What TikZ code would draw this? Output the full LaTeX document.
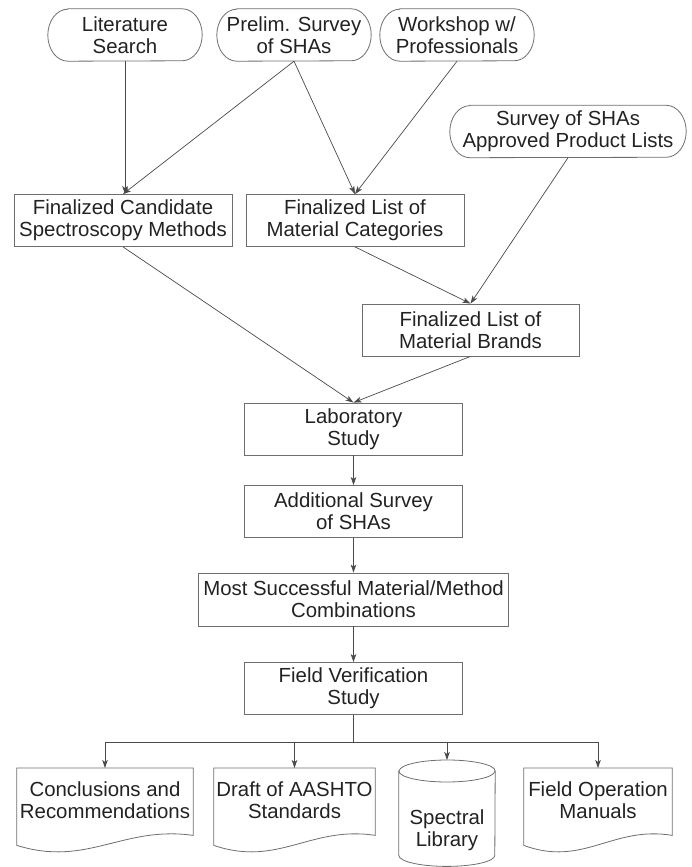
\documentclass[tikz,border=0pt]{standalone}
\usepackage{fontspec}
\setmainfont{Liberation Sans}
\usetikzlibrary{arrows.meta,calc}
\definecolor{edgec}{HTML}{6E6E6E}
\definecolor{linec}{HTML}{4A4A4A}
\definecolor{txtc}{HTML}{222222}
\tikzset{
  base/.style={inner sep=0pt, align=center, text=txtc, font=\fontsize{20.4pt}{22pt}\selectfont},
  boxn/.style={base, draw=edgec, line width=0.8pt, minimum width=218pt, minimum height=52pt},
  ovaln/.style={base, minimum height=52pt},
  docn/.style={base, minimum height=64pt, anchor=north},
  shp/.style={draw=edgec, line width=0.8pt},
  conn/.style={draw=linec, line width=0.7pt, -{Stealth[length=8pt,width=5.5pt,inset=2pt]}},
  plain/.style={draw=linec, line width=0.7pt},
}
\newcommand\ovalshape[1]{\draw[shp] ($(#1.north west)+(20,0)$) -- ($(#1.north east)+(-20,0)$) arc[start angle=90,end angle=-90,x radius=20pt,y radius=26pt] -- ($(#1.south west)+(20,0)$) arc[start angle=270,end angle=90,x radius=20pt,y radius=26pt] -- cycle;}
\newcommand\docshape[1]{\draw[shp] (#1.north west) -- ($(#1.south west)+(0,-13)$) .. controls ($(#1.south west)!0.4!(#1.south east)+(0,-35)$) and ($(#1.south west)!0.6!(#1.south east)+(0,7)$) .. ($(#1.south east)+(0,-3)$) -- (#1.north east) -- cycle;}
\begin{document}
\begin{tikzpicture}[x=1pt,y=1pt]
\useasboundingbox (0,0) rectangle (692,867);
% top ovals
\node[ovaln, minimum width=154pt] (lit) at (125,832) {Literature\\Search};
\node[ovaln, minimum width=154pt] (pre) at (294,832) {Prelim. Survey\\of SHAs};
\node[ovaln, minimum width=154pt] (work) at (457,832) {Workshop w/\\Professionals};
\node[ovaln, minimum width=236pt] (surv) at (568,735.5) {Survey of SHAs\\Approved Product Lists};
\ovalshape{lit}
\ovalshape{pre}
\ovalshape{work}
\ovalshape{surv}
% boxes
\node[boxn] (cand) at (123,646.5) {Finalized Candidate\\Spectroscopy Methods};
\node[boxn] (cat) at (355,646.5) {Finalized List of\\Material Categories};
\node[boxn, minimum width=217pt] (brand) at (470.5,537) {Finalized List of\\Material Brands};
\node[boxn] (lab) at (353.5,438) {Laboratory\\Study};
\node[boxn] (add) at (353.5,355.5) {Additional Survey\\of SHAs};
\node[boxn, minimum width=310pt, minimum height=53pt] (most) at (353.5,267.5) {Most Successful Material/Method\\Combinations};
\node[boxn] (fv) at (353.5,178.5) {Field Verification\\Study};
% outputs
\coordinate (br) at (353.5,125);
\node[docn, minimum width=176pt] (conc) at (105,99) {Conclusions and\\Recommendations};
\node[docn, minimum width=161pt] (draft) at (294.5,99) {Draft of AASHTO\\Standards};
\node[docn, minimum width=148pt] (fom) at (598,99) {Field Operation\\Manuals};
\docshape{conc}
\docshape{draft}
\docshape{fom}
\node[base, minimum width=96pt, minimum height=106pt, anchor=north] (lib) at (447,107) {};
\draw[shp] ($(lib.north west)+(0,-11)$) -- ($(lib.south west)+(0,11)$) arc[start angle=180,end angle=360,x radius=48pt,y radius=11pt] -- ($(lib.north east)+(0,-11)$) arc[start angle=0,end angle=180,x radius=48pt,y radius=11pt] -- cycle;
\draw[shp] ($(lib.north west)+(0,-11)$) arc[start angle=180,end angle=360,x radius=48pt,y radius=11pt];
\node[base] (libtxt) at (447,37) {Spectral\\Library};
% connectors
\draw[conn] (lit.south) -- (lit.south |- cand.north);
\draw[conn] (pre.south) -- (cand.north);
\draw[conn] (pre.south) -- (cat.north);
\draw[conn] (work.south) -- (cat.north);
\draw[conn] (cat.south) -- (brand.north);
\draw[conn] (surv.south) -- (brand.north);
\draw[conn] (cand.south) -- (lab.north);
\draw[conn] (brand.south) -- (lab.north);
\draw[conn] (lab.south) -- (add.north);
\draw[conn] (add.south) -- (most.north);
\draw[conn] (most.south) -- (fv.north);
\draw[plain] (fv.south) -- (br);
\draw[conn] (br) -| (conc.north);
\draw[conn] (br) -| (draft.north);
\draw[conn] (br) -| (lib.north);
\draw[conn] (br) -| (fom.north);
\end{tikzpicture}
\end{document}
